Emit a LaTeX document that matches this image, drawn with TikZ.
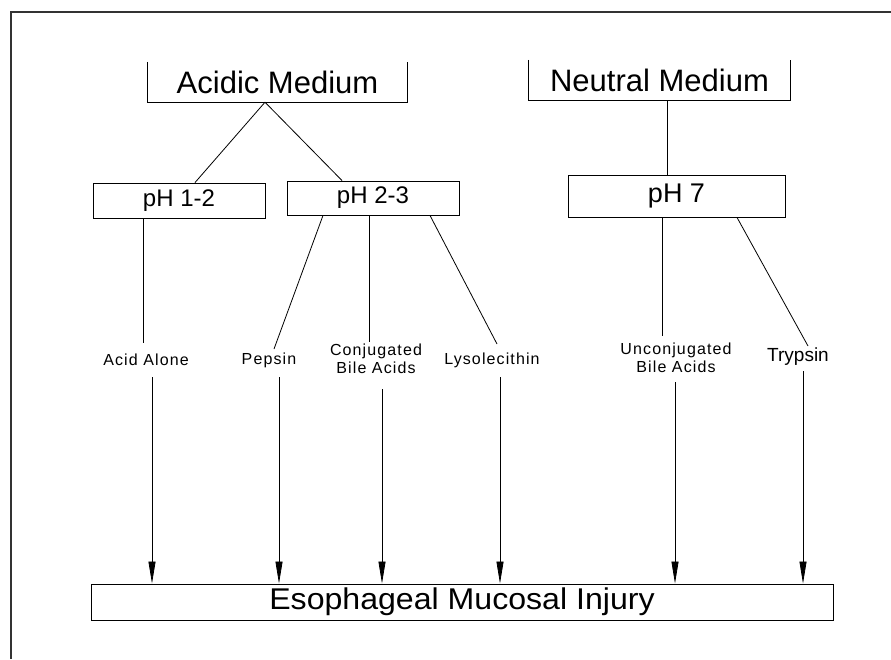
\documentclass[tikz,border=0pt]{standalone}
\usepackage{fontspec}
\setmainfont{Liberation Sans}
\newfontfamily\lbl[LetterSpace=7]{Liberation Sans}
\usetikzlibrary{arrows.meta}
\begin{document}
\begin{tikzpicture}[x=1pt,y=-1pt,
  box/.style={draw, line width=0.9pt, inner sep=0pt},
  openbox/.style={inner sep=0pt},
  lab/.style={inner sep=0pt, align=center, font=\lbl\fontsize{16}{18}\selectfont},
  conn/.style={line width=0.8pt},
  arr/.style={line width=0.8pt, -{Triangle[length=22pt,width=7pt]}}]
\useasboundingbox (0,0) rectangle (891,659);
% frame (top and left only)
\draw[line width=1.6pt, black!80] (891,12) -- (11,12) -- (11,659);
% top boxes (open top)
\node[openbox, minimum width=259pt, minimum height=40pt, font=\fontsize{31}{36}\selectfont] (acid) at (277.5,82) {Acidic Medium};
\draw[line width=0.9pt] (acid.north west) -- (acid.south west) -- (acid.south east) -- (acid.north east);
\node[openbox, minimum width=261pt, minimum height=40pt, font=\fontsize{31}{36}\selectfont] (neut) at (659.5,80) {Neutral Medium};
\draw[line width=0.9pt] (neut.north west) -- (neut.south west) -- (neut.south east) -- (neut.north east);
% pH boxes
\node[box, minimum width=172pt, minimum height=35pt, font=\fontsize{24}{28}\selectfont] (p12) at (179,200.5) {pH 1-2};
\node[box, minimum width=172pt, minimum height=34pt, font=\fontsize{24}{28}\selectfont] (p23) at (373,198) {pH 2-3};
\node[box, minimum width=217pt, minimum height=42pt, font=\fontsize{27}{30}\selectfont] (p7) at (676.5,196) {pH 7};
% labels
\node[lab] (aa) at (146,360) {Acid Alone};
\node[lab] (pep) at (269,360) {Pepsin};
\node[lab] (cba) at (376,359) {Conjugated\\Bile Acids};
\node[lab] (lys) at (492,360) {Lysolecithin};
\node[lab] (uba) at (676,358) {Unconjugated\\Bile Acids};
\node[inner sep=0pt, font=\fontsize{19}{22}\selectfont] (tryp) at (798,357) {Trypsin};
% bottom box
\node[box, minimum width=742pt, minimum height=36pt] (inj) at (462,602) {\fontsize{30}{34}\selectfont\scalebox{1.07}[1]{Esophageal Mucosal Injury}};
% connectors
\draw[conn] (265,0 |- acid.south) -- (195,0 |- p12.north);
\draw[conn] (265,0 |- acid.south) -- (342,0 |- p23.north);
\draw[conn] (667,0 |- neut.south) -- (667,0 |- p7.north);
\draw[conn] (143,0 |- p12.south) -- (143,343);
\draw[conn] (323,0 |- p23.south) -- (274,349);
\draw[conn] (369,0 |- p23.south) -- (369,342);
\draw[conn] (430,0 |- p23.south) -- (497,344);
\draw[conn] (662,0 |- p7.south) -- (662,336);
\draw[conn] (737,0 |- p7.south) -- (808,346);
% arrows
\draw[arr] (152,377) -- (152,0 |- inj.north);
\draw[arr] (279,377) -- (279,0 |- inj.north);
\draw[arr] (382,389) -- (382,0 |- inj.north);
\draw[arr] (500,377) -- (500,0 |- inj.north);
\draw[arr] (675,382) -- (675,0 |- inj.north);
\draw[arr] (803,371) -- (803,0 |- inj.north);
\end{tikzpicture}
\end{document}
